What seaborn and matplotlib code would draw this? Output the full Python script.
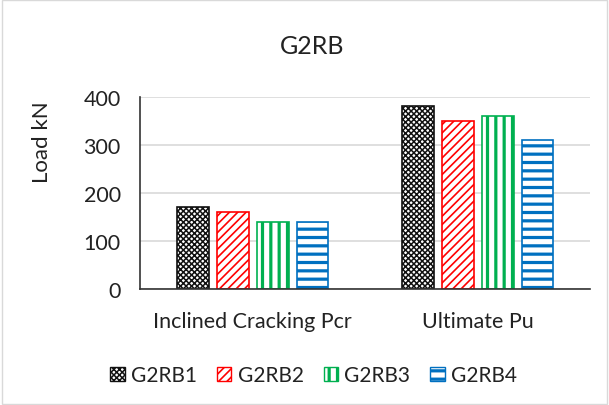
import numpy as np
import pandas as pd
import matplotlib
matplotlib.use("Agg")
import matplotlib.pyplot as plt
import seaborn as sns
from matplotlib.patches import Patch, Rectangle

categories = ["Inclined Cracking Pcr", "Ultimate Pu"]
series = ["G2RB1", "G2RB2", "G2RB3", "G2RB4"]
g2rb1 = [170, 380]
g2rb2 = [160, 350]
g2rb3 = [140, 360]
g2rb4 = [140, 310]

colors = ["#111111", "#ff0000", "#00b050", "#0070c0"]
hatches = ["xxxxxx", "////", "||", "--"]
hatch_lw = [1.1, 1.2, 2.3, 2.3]


def with_hatch_lw(artist, lw):
    # hatch width is read from rcParams when the patch is drawn
    orig = artist.draw

    def draw(renderer):
        with plt.rc_context({"hatch.linewidth": lw}):
            orig(renderer)
    artist.draw = draw
    if hasattr(artist, "set_hatch_linewidth"):
        artist.set_hatch_linewidth(lw)


df = pd.DataFrame({
    "cat": categories * 4,
    "series": np.repeat(series, 2),
    "load": g2rb1 + g2rb2 + g2rb3 + g2rb4,
})

sns.set_style("white")
plt.rcParams["font.family"] = ["Lato", "DejaVu Sans"]

fig = plt.figure(figsize=(6.09, 4.06), dpi=100)
ax = fig.add_axes([0.23, 0.286, 0.739, 0.473])

sns.barplot(data=df, x="cat", y="load", hue="series", order=categories,
            hue_order=series, width=0.71, gap=0.2, ax=ax, legend=False)

for i, cont in enumerate(ax.containers):
    for bar in cont:
        bar.set_facecolor("white")
        bar.set_edgecolor(colors[i])
        bar.set_hatch(hatches[i])
        bar.set_linewidth(1.2)
        with_hatch_lw(bar, hatch_lw[i])

ax.set_ylim(0, 400)
ax.set_yticks([0, 100, 200, 300, 400])
ax.grid(axis="y", color="#d9d9d9", linewidth=1.2)
ax.set_axisbelow(True)
for s in ["top", "right"]:
    ax.spines[s].set_visible(False)
ax.spines["left"].set_color("#333333")
ax.spines["bottom"].set_color("#333333")
ax.spines["left"].set_linewidth(1.2)
ax.spines["bottom"].set_linewidth(1.2)
ax.tick_params(axis="y", length=0, labelsize=15.5, colors="#222222", pad=14)
ax.tick_params(axis="x", length=0, labelsize=15.5, colors="#222222", pad=16)
ax.set_xlabel("")
ax.set_ylabel("")
fig.text(0.069, 0.65, "Load kN", rotation=90, ha="center", va="center",
         fontsize=16, color="#222222")

fig.text(0.513, 0.885, "G2RB", ha="center", va="center", fontsize=18, color="#222222")

handles = []
for i, name in enumerate(series):
    p = Patch(facecolor="white", edgecolor=colors[i], hatch=hatches[i], label=name)
    handles.append(p)
leg = fig.legend(handles=handles, loc="center", bbox_to_anchor=(0.515, 0.073), ncol=4,
                 frameon=False, fontsize=15, handlelength=0.7, handleheight=0.7,
                 handletextpad=0.3, columnspacing=0.95)
for txt in leg.get_texts():
    txt.set_color("#222222")
for h, lw in zip(leg.get_patches(), hatch_lw):
    with_hatch_lw(h, lw)

fig.add_artist(Rectangle((0.003, 0.003), 0.994, 0.994, transform=fig.transFigure,
                         fill=False, edgecolor="#d9d9d9", linewidth=1))

fig.savefig("out.png", dpi=100)
